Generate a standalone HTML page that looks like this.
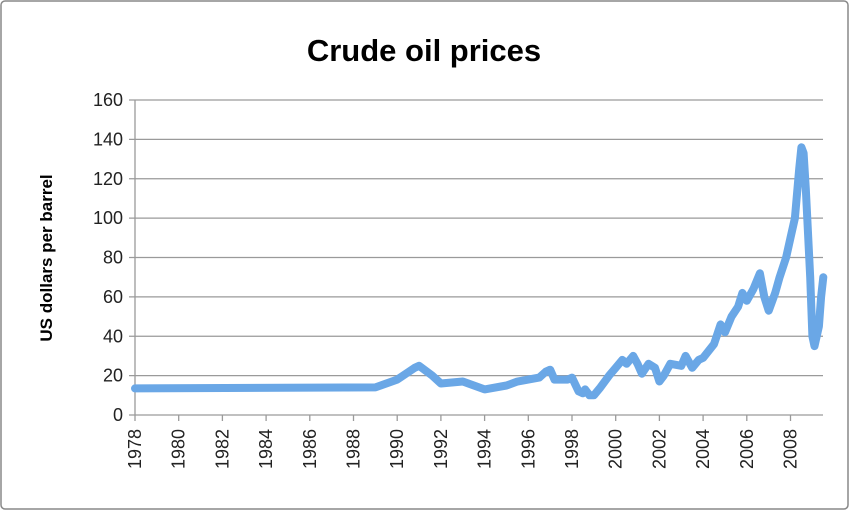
<!DOCTYPE html>
<html><head><meta charset="utf-8"><style>
html,body{margin:0;padding:0;background:#fff;}
svg{display:block;font-family:"Liberation Sans",sans-serif;}
</style></head><body>
<svg id="chart" width="850" height="511">
<rect x="1" y="1" width="847" height="508" rx="4" fill="#fff" stroke="#888" stroke-width="1.5"/>
<text x="424" y="61" text-anchor="middle" font-size="31" font-weight="bold" fill="#000">Crude oil prices</text>
<text transform="translate(52,258) rotate(-90)" text-anchor="middle" font-size="17" font-weight="bold" fill="#000">US dollars per barrel</text>
<g id="grid"></g><g id="axes"></g><g id="series"></g>
</svg>
<script>
const yTicks=[0,20,40,60,80,100,120,140,160];
const xTickYears=[1978,1980,1982,1984,1986,1988,1990,1992,1994,1996,1998,2000,2002,2004,2006,2008];
const years=[1978,1989,1990,1990.8,1991,1991.6,1992,1993,1994,1995,1995.5,1996.5,1996.8,1997,1997.2,1997.8,1998,1998.3,1998.5,1998.6,1998.8,1999,1999.3,1999.7,2000,2000.3,2000.5,2000.8,2001,2001.2,2001.5,2001.8,2002,2002.2,2002.5,2003,2003.2,2003.5,2003.8,2004,2004.5,2004.8,2005,2005.3,2005.6,2005.8,2006,2006.3,2006.6,2006.8,2007,2007.3,2007.5,2007.8,2008,2008.2,2008.4,2008.5,2008.6,2008.7,2008.9,2009,2009.1,2009.3,2009.4,2009.5];
const prices=[13.5,14,18,24,25,20,16,17,13,15,17,19,22,23,18,18,19,12,11,13,10,10,14,20,24,28,26,30,26,21,26,24,17,20,26,25,30,24,28,29,36,46,42,50,55,62,58,64,72,60,53,62,70,80,90,100,125,136,133,115,70,40,35,45,60,70];
const NS="http://www.w3.org/2000/svg";
const X0=135,PX=21.85,Y0=415,PY=315/160,XR=823;
const xs=v=>X0+(v-1978)*PX, ys=v=>Y0-v*PY;
const grid=document.getElementById('grid'),axes=document.getElementById('axes'),series=document.getElementById('series');
function mk(t,a,p){const e=document.createElementNS(NS,t);for(const k in a)e.setAttribute(k,a[k]);p.appendChild(e);return e;}
yTicks.forEach(v=>{
 const l=mk('line',{x1:X0-6,x2:XR,y1:ys(v),y2:ys(v),stroke:'#9a9a9a','stroke-width':1.3},grid);
 
 
 const t=mk('text',{x:X0-12,y:ys(v)+6,'text-anchor':'end','font-size':18,fill:'#222'},axes);
 t.textContent=v;
 
 
});
const ax=mk('line',{x1:X0,x2:X0,y1:ys(160),y2:Y0,stroke:'#9a9a9a','stroke-width':1.3},axes);


xTickYears.forEach(v=>{
 const l=mk('line',{x1:xs(v),x2:xs(v),y1:Y0,y2:Y0+6,stroke:'#9a9a9a','stroke-width':1.3},axes);
 
 
 const t=mk('text',{transform:`translate(${xs(v)+6},${Y0+14}) rotate(-90)`,'text-anchor':'end','font-size':18,fill:'#222'},axes);
 t.textContent=v;
 
 
});
const d=years.map((y,i)=>(i?'L':'M')+xs(y).toFixed(1)+','+ys(prices[i]).toFixed(1)).join('');
const p=mk('path',{d:d,fill:'none',stroke:'#6aa7e6','stroke-width':8,'stroke-linejoin':'round','stroke-linecap':'round'},series);


</script>
</body></html>
